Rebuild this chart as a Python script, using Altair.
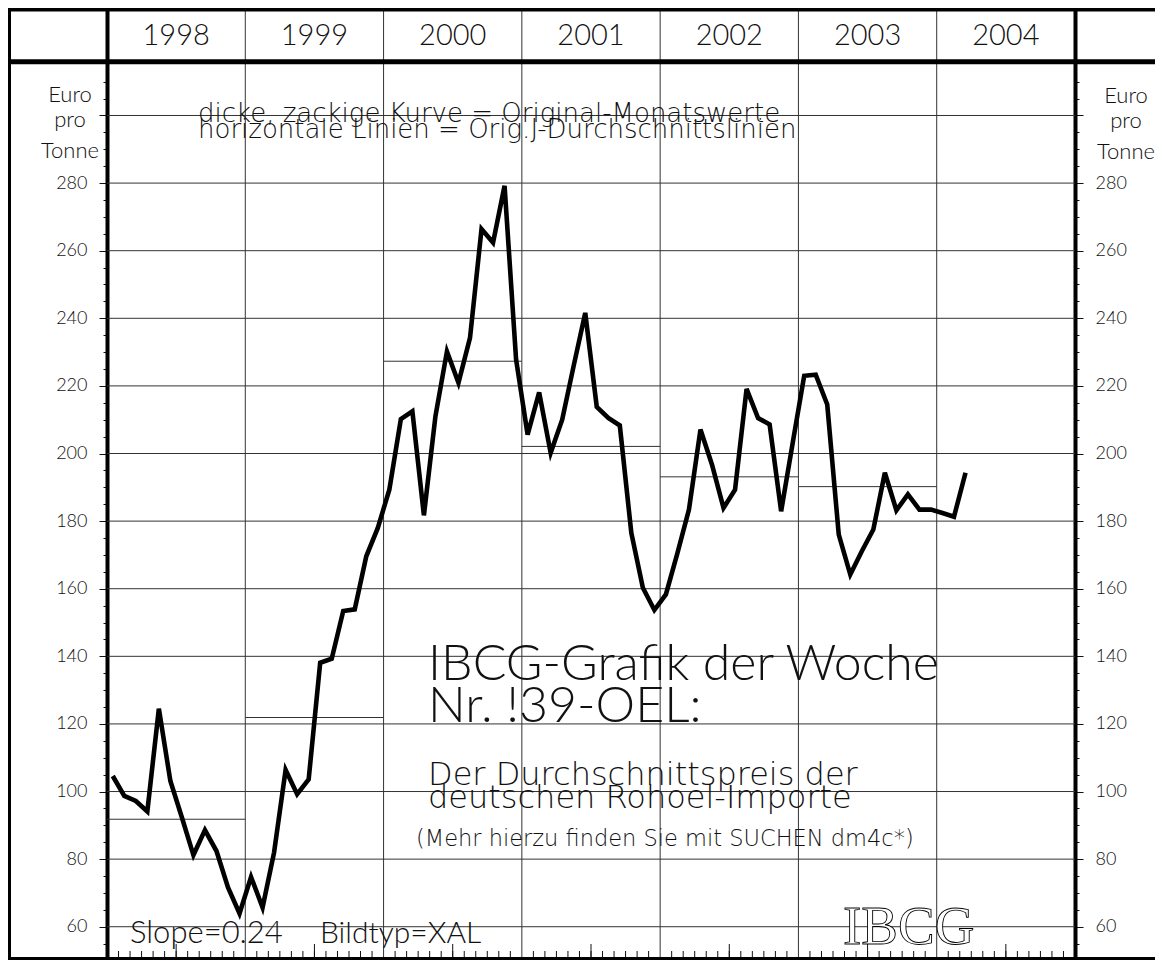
import altair as alt
import pandas as pd

# ---------------- data ----------------
years = [1998, 1999, 2000, 2001, 2002, 2003, 2004]
prices_1998 = [104.6, 98.7, 97.2, 94.1, 124.5, 103.1, 92.3, 81.2, 88.6, 82.4, 71.6, 63.9]
prices_1999 = [74.7, 65.7, 82.0, 106.4, 99.2, 103.6, 138.1, 139.3, 153.4, 153.9, 169.6, 178.0]
prices_2000 = [189.3, 210.2, 212.5, 181.7, 211.0, 230.2, 220.9, 234.2, 266.4, 262.4, 279.2, 227.8]
prices_2001 = [205.6, 218.1, 200.2, 210.0, 226.0, 241.6, 213.8, 210.5, 208.3, 176.5, 160.3, 153.7]
prices_2002 = [158.3, 170.5, 183.4, 207.1, 196.7, 183.9, 189.3, 219.1, 210.5, 208.6, 182.9, 203.1]
prices_2003 = [223.0, 223.3, 214.5, 176.0, 164.2, 171.1, 177.5, 194.3, 183.2, 187.9, 183.4, 183.4]
prices_2004 = [182.4, 181.3, 194.3]

avg_years = [1998, 1999, 2000, 2001, 2002, 2003]
year_avg = [91.8, 121.9, 227.3, 202.1, 193.1, 190.2]

grid_values = [60, 80, 100, 120, 140, 160, 180, 200, 220, 240, 260, 280, 300]
major_ticks = [60, 80, 100, 120, 140, 160, 180, 200, 220, 240, 260, 280, 300]
minor_ticks = list(range(55, 311, 5))
header_value = [315.9]

# ---------------- tables ----------------
prices = prices_1998 + prices_1999 + prices_2000 + prices_2001 + prices_2002 + prices_2003 + prices_2004
line_df = pd.DataFrame({"m": [i + 0.5 for i in range(len(prices))], "price": prices})
avg_df = pd.DataFrame({
    "x0": [(y - years[0]) * 12 for y in avg_years],
    "x1": [(y - years[0]) * 12 + 12 for y in avg_years],
    "avg": year_avg,
})
grid_df = pd.DataFrame({"v": grid_values})
year_df = pd.DataFrame({"year": [str(y) for y in years], "mid": [i * 12 + 6 for i in range(len(years))]})
bound_df = pd.DataFrame({"b": [i * 12 for i in range(1, len(years))]})
month_df = pd.DataFrame({"t": [i for i in range(1, len(years) * 12) if i % 12 != 0]})
half_df = pd.DataFrame({"t": [i * 12 + 6 for i in range(len(years))]})
header_df = pd.DataFrame({"v": header_value})
one = pd.DataFrame({"a": [0]})

W, H = 968, 950
FONT = "Lato"
CAD = "DejaVu Sans"
INK = "#111111"

xs = alt.Scale(domain=[0, 84], nice=False, zero=False)
ys = alt.Scale(domain=[50.75, 331.8], nice=False, zero=False)


def yaxis(orient, values, size, labels):
    kw = dict(orient=orient, values=values, tickSize=size, tickColor=INK, tickWidth=1,
              grid=False, title="", domain=labels is None, labels=bool(labels))
    if labels is None:
        kw.update(domainWidth=4, domainColor="black")
    if labels:
        kw.update(labelFont=FONT, labelFontSize=18, labelFontWeight=300, labelColor=INK,
                  labelPadding=12, labelExpr="datum.value <= 280 ? datum.label : ''")
    return alt.Axis(**kw)


left_minor = yaxis("left", minor_ticks, 4, None)
left_major = yaxis("left", major_ticks, 8, True)
right_minor = yaxis("right", minor_ticks, 4, None)
right_major = yaxis("right", major_ticks, 8, True)

grid_h = alt.Chart(grid_df).mark_rule(color="#333", strokeWidth=1).encode(
    y=alt.Y("v:Q", scale=ys, axis=left_major))

year_lines = alt.Chart(bound_df).mark_rule(color="#333", strokeWidth=1).encode(
    x=alt.X("b:Q", scale=xs, axis=None))

avg_lines = alt.Chart(avg_df).mark_rule(color="#333", strokeWidth=1).encode(
    x=alt.X("x0:Q", scale=xs, axis=None), x2="x1:Q",
    y=alt.Y("avg:Q", scale=ys, axis=right_major))

price_line = alt.Chart(line_df).mark_line(color="black", strokeWidth=4.6, strokeJoin="miter").encode(
    x=alt.X("m:Q", scale=xs, axis=None),
    y=alt.Y("price:Q", scale=ys, axis=left_minor))

header_line = alt.Chart(header_df).mark_rule(color="black", strokeWidth=5).encode(
    x=alt.value(-100), x2=alt.value(W + 90),
    y=alt.Y("v:Q", scale=ys, axis=right_minor))

year_text = alt.Chart(year_df).mark_text(font=FONT, fontSize=29, fontWeight=300, color=INK,
                                         baseline="middle", align="center").encode(
    x=alt.X("mid:Q", scale=xs, axis=None), y=alt.value(28), text="year:N")

month_ticks = alt.Chart(month_df).mark_rule(color=INK, strokeWidth=1).encode(
    x=alt.X("t:Q", scale=xs, axis=None), y=alt.value(H), y2=alt.value(H - 7))
half_ticks = alt.Chart(half_df).mark_rule(color=INK, strokeWidth=1).encode(
    x=alt.X("t:Q", scale=xs, axis=None), y=alt.value(H), y2=alt.value(H - 14))

frame_top = alt.Chart(one).mark_rule(color="black", strokeWidth=5).encode(
    x=alt.value(-100), x2=alt.value(W + 90), y=alt.value(1))
frame_bottom = alt.Chart(one).mark_rule(color="black", strokeWidth=4).encode(
    x=alt.value(-100), x2=alt.value(W + 90), y=alt.value(H + 1))
frame_left = alt.Chart(one).mark_rule(color="black", strokeWidth=4).encode(
    x=alt.value(-98), y=alt.value(0), y2=alt.value(H + 2))


def label(text, x, y, size, align="left", font=FONT, weight=300, **extra):
    return alt.Chart(one).mark_text(text=text, font=font, fontSize=size, fontWeight=weight,
                                    color=INK, align=align, baseline="alphabetic", **extra).encode(
        x=alt.value(x), y=alt.value(y))


texts = [
    label("Euro", -37, 94, 22, "center"),
    label("pro", -37, 119, 22, "center"),
    label("Tonne", -37, 150, 22, "center"),
    label("Euro", W + 51, 95, 22, "center"),
    label("pro", W + 51, 120, 22, "center"),
    label("Tonne", W + 51, 151, 22, "center"),
    label("dicke, zackige Kurve = Original-Monatswerte", 91, 114, 26, font=CAD, weight=200),
    label("horizontale Linien = Orig.J-Durchschnittslinien", 91, 130, 26, font=CAD, weight=200),
    label("IBCG-Grafik der Woche", 321, 672, 50),
    label("Nr. !39-OEL:", 321, 714, 50),
    label("Der Durchschnittspreis der", 321, 777, 32, font=CAD, weight=200),
    label("deutschen Rohoel-Importe", 321, 800, 32, font=CAD, weight=200),
    label("(Mehr hierzu finden Sie mit SUCHEN dm4c*)", 309, 838, 22.5, font=CAD, weight=200),
    label("Slope=0.24", 23, 935, 31),
    label("Bildtyp=XAL", 213, 935, 30),
    label("IBCG", 736, 936, 55, font="Liberation Serif", weight=400,
          fill="white", stroke="black", strokeWidth=0.9),
]

chart = alt.layer(
    grid_h, year_lines, avg_lines, month_ticks, half_ticks,
    *texts, year_text,
    price_line, header_line, frame_top, frame_bottom, frame_left,
).resolve_axis(y="independent").properties(
    width=W, height=H,
    padding={"left": 99, "top": 0, "right": 80, "bottom": 2},
    autosize=alt.AutoSizeParams(type="none"),
).configure_view(stroke=None).configure(background="white")

chart.save("out.html", embed_options={"renderer": "svg", "actions": False})
